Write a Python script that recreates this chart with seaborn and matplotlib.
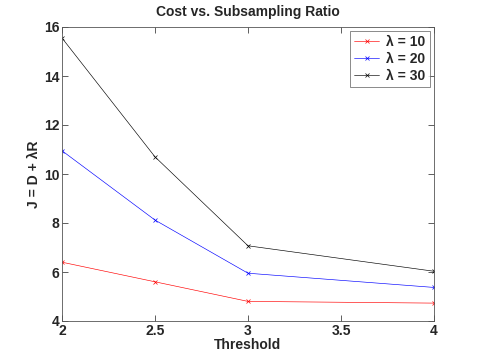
import pandas as pd
import matplotlib.pyplot as plt
import seaborn as sns

threshold = [2, 2.5, 3, 4]
cost_10 = [6.4, 5.6, 4.8, 4.73]
cost_20 = [10.95, 8.12, 5.95, 5.37]
cost_30 = [15.55, 10.7, 7.07, 6.03]
labels = ['λ = 10', 'λ = 20', 'λ = 30']

data = pd.DataFrame({
    'Threshold': threshold * 3,
    'J': cost_10 + cost_20 + cost_30,
    'lam': [labels[0]] * 4 + [labels[1]] * 4 + [labels[2]] * 4,
})

sns.set_style('ticks')
plt.rcParams['font.family'] = ['Liberation Sans', 'DejaVu Sans']
plt.rcParams['font.weight'] = 'bold'

fig = plt.figure(figsize=(4.8, 3.6), dpi=100)
ax = fig.add_axes([62 / 480, 39 / 360, 372 / 480, 294 / 360])
sns.lineplot(data=data, x='Threshold', y='J', hue='lam', ax=ax,
             palette=['red', 'blue', 'black'], marker='x', markersize=2.5,
             markeredgewidth=0.5, linewidth=0.45, mec=None)
ax.set_xlim(2, 4)
ax.set_ylim(4, 16)
ax.set_xticks([2, 2.5, 3, 3.5, 4])
ax.set_xticklabels(['2', '2.5', '3', '3.5', '4'])
ax.set_yticks([4, 6, 8, 10, 12, 14, 16])
ax.tick_params(direction='in', length=4, width=0.6, labelsize=10, color='#444444',
               top=True, right=True, pad=2)
for s in ax.spines.values():
    s.set_linewidth(0.6)
    s.set_color('#555555')
ax.set_title('Cost vs. Subsampling Ratio', fontsize=10, fontweight='bold', pad=8)
ax.set_xlabel('Threshold', fontsize=10, fontweight='bold', labelpad=0)
ax.set_ylabel('J = D + λR', fontsize=10, fontweight='bold', labelpad=2)
leg = ax.legend(loc='upper right', fontsize=10, frameon=True, fancybox=False,
                borderaxespad=0.3, handlelength=1.8, handletextpad=0.5,
                labelspacing=0.2, borderpad=0.3)
leg.get_frame().set_edgecolor('#555555')
leg.get_frame().set_linewidth(0.6)
fig.savefig('out.png', dpi=100, facecolor='white')
